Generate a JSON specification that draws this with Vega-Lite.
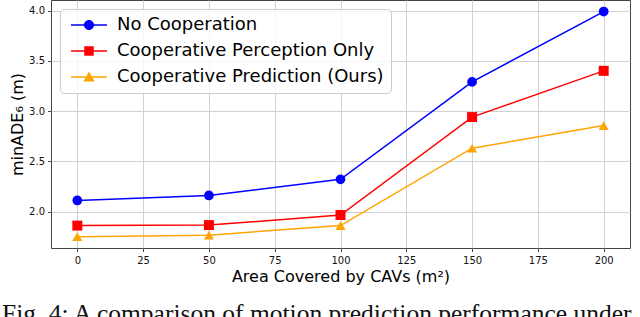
{
  "$schema": "https://vega.github.io/schema/vega-lite/v6.json",
  "autosize": {"type": "none"},
  "width": 579,
  "height": 248,
  "padding": {"left": 51, "top": 0, "right": 10, "bottom": 69},
  "background": "white",
  "config": {
    "view": {"stroke": "#444", "strokeWidth": 1},
    "font": "DejaVu Sans",
    "axis": {
      "labelFont": "DejaVu Sans",
      "labelFontSize": 10,
      "labelColor": "#111",
      "tickColor": "#444",
      "tickSize": 3.5,
      "tickWidth": 1,
      "domain": false,
      "gridColor": "#d0d0d0",
      "gridWidth": 1,
      "titleFont": "DejaVu Sans",
      "titleFontSize": 16,
      "titleFontWeight": "normal",
      "titleColor": "#000"
    },
    "legend": {
      "orient": "none",
      "legendX": 9,
      "legendY": 9,
      "direction": "vertical",
      "labelFont": "DejaVu Sans",
      "labelFontSize": 18,
      "labelColor": "#000",
      "labelLimit": 400,
      "symbolSize": 100,
      "symbolOffset": 13,
      "labelOffset": 19,
      "rowPadding": 8,
      "padding": 7,
      "symbolOpacity": 1,
      "symbolStrokeWidth": 0,
      "fillColor": "rgba(255,255,255,0.8)",
      "strokeColor": "#cccccc",
      "cornerRadius": 4
    }
  },
  "title": {
    "text": "Fig. 4: A comparison of motion prediction performance under",
    "orient": "bottom",
    "anchor": "start",
    "frame": "group",
    "font": "Liberation Serif",
    "fontSize": 25.5,
    "fontWeight": "normal",
    "color": "#111",
    "dx": -49,
    "offset": 17
  },
  "data": {
    "values": [
      {"area": 0, "value": 2.11, "series": "No Cooperation"},
      {"area": 50, "value": 2.16, "series": "No Cooperation"},
      {"area": 100, "value": 2.32, "series": "No Cooperation"},
      {"area": 150, "value": 3.29, "series": "No Cooperation"},
      {"area": 200, "value": 3.99, "series": "No Cooperation"},
      {"area": 0, "value": 1.86, "series": "Cooperative Perception Only"},
      {"area": 50, "value": 1.865, "series": "Cooperative Perception Only"},
      {"area": 100, "value": 1.965, "series": "Cooperative Perception Only"},
      {"area": 150, "value": 2.94, "series": "Cooperative Perception Only"},
      {"area": 200, "value": 3.40, "series": "Cooperative Perception Only"},
      {"area": 0, "value": 1.75, "series": "Cooperative Prediction (Ours)"},
      {"area": 50, "value": 1.765, "series": "Cooperative Prediction (Ours)"},
      {"area": 100, "value": 1.86, "series": "Cooperative Prediction (Ours)"},
      {"area": 150, "value": 2.63, "series": "Cooperative Prediction (Ours)"},
      {"area": 200, "value": 2.855, "series": "Cooperative Prediction (Ours)"}
    ]
  },
  "encoding": {
    "x": {
      "field": "area",
      "type": "quantitative",
      "scale": {"domain": [-10, 210], "nice": false, "zero": false},
      "axis": {"values": [0, 25, 50, 75, 100, 125, 150, 175, 200], "title": "Area Covered by CAVs (m²)", "titlePadding": 3, "labelPadding": 4}
    },
    "y": {
      "field": "value",
      "type": "quantitative",
      "scale": {"domain": [1.637, 4.105], "nice": false, "zero": false},
      "axis": {"values": [2.0, 2.5, 3.0, 3.5, 4.0], "format": ".1f", "title": "minADE₆ (m)", "titlePadding": 3, "labelPadding": 3}
    },
    "color": {
      "field": "series",
      "type": "nominal",
      "scale": {
        "domain": ["No Cooperation", "Cooperative Perception Only", "Cooperative Prediction (Ours)"],
        "range": ["#0000ff", "#ff0000", "#ffa500"]
      },
      "legend": {"title": null}
    }
  },
  "layer": [
    {
      "mark": {"type": "line", "strokeWidth": 1.5}
    },
    {
      "mark": {"type": "point", "filled": true, "size": 100, "opacity": 0},
      "encoding": {
        "shape": {
          "field": "series",
          "type": "nominal",
          "scale": {
            "domain": ["No Cooperation", "Cooperative Perception Only", "Cooperative Prediction (Ours)"],
            "range": [
              "M-3.6,-0.15L3.6,-0.15L3.6,0.15L-3.6,0.15ZM-1,0A1,1 0 1,1 1,0A1,1 0 1,1 -1,0Z",
              "M-3.6,-0.15L3.6,-0.15L3.6,0.15L-3.6,0.15ZM-0.95,-0.95L0.95,-0.95L0.95,0.95L-0.95,0.95Z",
              "M-3.6,-0.15L3.6,-0.15L3.6,0.15L-3.6,0.15ZM0,-1.1L1.15,0.9L-1.15,0.9Z"
            ]
          },
          "legend": {"title": null}
        }
      }
    },
    {
      "transform": [{"filter": "datum.series === 'No Cooperation'"}],
      "mark": {"type": "point", "shape": "circle", "filled": true, "size": 95, "opacity": 1}
    },
    {
      "transform": [{"filter": "datum.series === 'Cooperative Perception Only'"}],
      "mark": {"type": "point", "shape": "square", "filled": true, "size": 100, "opacity": 1}
    },
    {
      "transform": [{"filter": "datum.series === 'Cooperative Prediction (Ours)'"}],
      "mark": {"type": "point", "shape": "triangle-up", "filled": true, "size": 100, "opacity": 1}
    }
  ]
}
